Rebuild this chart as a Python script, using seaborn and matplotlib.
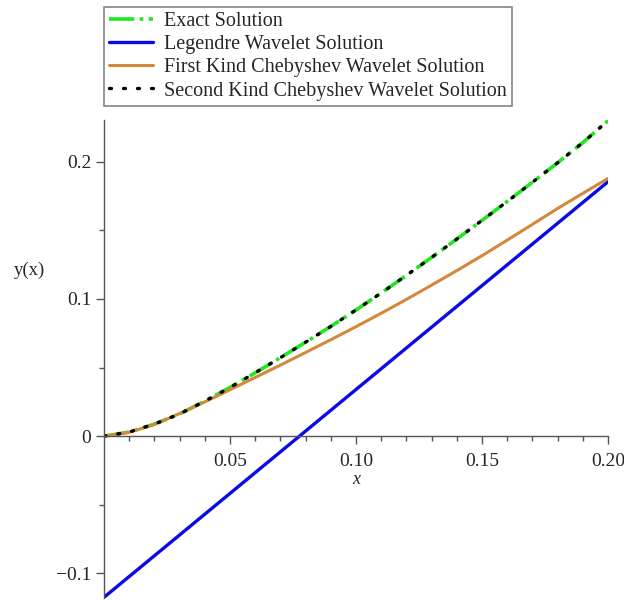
import numpy as np
import pandas as pd
import matplotlib.pyplot as plt
import seaborn as sns

# values
x_vals = [0.00, 0.01, 0.02, 0.03, 0.04, 0.05, 0.06, 0.07, 0.08, 0.09, 0.10,
          0.11, 0.12, 0.13, 0.14, 0.15, 0.16, 0.17, 0.18, 0.19, 0.20]
exact = [0.0, 0.0030, 0.0088, 0.0162, 0.0255, 0.0355, 0.0462, 0.0572, 0.0685, 0.0800, 0.0920,
         0.1044, 0.1172, 0.1303, 0.1437, 0.1573, 0.1711, 0.1851, 0.1993, 0.2140, 0.2300]
first_kind = [0.0, 0.0028, 0.0085, 0.0165, 0.0250, 0.0338, 0.0428, 0.0518, 0.0610, 0.0703, 0.0798,
              0.0896, 0.0997, 0.1101, 0.1207, 0.1316, 0.1429, 0.1544, 0.1660, 0.1770, 0.1879]
second_kind = [0.0, 0.0030, 0.0088, 0.0162, 0.0255, 0.0355, 0.0462, 0.0572, 0.0685, 0.0800, 0.0920,
               0.1044, 0.1172, 0.1303, 0.1437, 0.1573, 0.1711, 0.1851, 0.1993, 0.2140, 0.2300]
legendre_x = [0.0, 0.2]
legendre = [-0.1175, 0.1855]

labels = ['Exact Solution', 'Legendre Wavelet Solution',
          'First Kind Chebyshev Wavelet Solution', 'Second Kind Chebyshev Wavelet Solution']

sns.set_style("white")
plt.rcParams['font.family'] = ['Liberation Serif', 'DejaVu Serif']

fig = plt.figure(figsize=(6.24, 6), dpi=100)
ax = fig.add_axes([104/624, 2/600, (608-104)/624, (480-2)/600])

df = pd.DataFrame({'x': x_vals, 'exact': exact, 'first': first_kind, 'second': second_kind})
df_leg = pd.DataFrame({'x': legendre_x, 'y': legendre})

sns.lineplot(data=df, x='x', y='exact', ax=ax, color='#1ee81e', lw=2.6,
             dashes=False, label=labels[0])
ax.lines[-1].set_dashes((7, 1.5, 1, 1.5))
sns.lineplot(data=df_leg, x='x', y='y', ax=ax, color='#0a0ae6', lw=2.4, label=labels[1])
sns.lineplot(data=df, x='x', y='first', ax=ax, color='#d4883c', lw=2.2, label=labels[2])
sns.lineplot(data=df, x='x', y='second', ax=ax, color='black', lw=2.4, label=labels[3])
ax.lines[-1].set_dashes((0.6, 3.6))
ax.lines[-1].set_dash_capstyle('round')

ax.set_xlim(0, 0.2)
ax.set_ylim(-0.118, 0.2305)
ax.spines['left'].set_position(('data', 0))
ax.spines['bottom'].set_position(('data', 0))
ax.spines['top'].set_visible(False)
ax.spines['right'].set_visible(False)
for s in ['left', 'bottom']:
    ax.spines[s].set_color('#555555')
    ax.spines[s].set_linewidth(1.0)

ax.set_xticks([0.05, 0.10, 0.15, 0.20])
ax.set_xticklabels(['0.05', '0.10', '0.15', '0.20'])
ax.set_xticks(np.arange(0.01, 0.2, 0.01), minor=True)
ax.set_yticks([-0.1, 0, 0.1, 0.2])
ax.set_yticklabels(['\u22120.1', '0', '0.1', '0.2'])
ax.set_yticks([-0.05, 0.05, 0.15], minor=True)
ax.tick_params(which='major', direction='out', length=6, width=1, color='#555555',
               labelsize=14, left=True, bottom=True)
ax.tick_params(which='minor', direction='out', length=3.5, width=1, color='#555555',
               left=True, bottom=True)
ax.tick_params(axis='x', pad=6)
ax.tick_params(axis='y', pad=3)

ax.set_xlabel('')
ax.set_ylabel('')
ax.text(0.1, -0.0255, 'x', style='italic', fontsize=13, ha='center', va='top')
fig.text(14/624, 1 - 270/600, 'y(x)', fontsize=13.5, ha='left', va='center')

handles, labs = ax.get_legend_handles_labels()
ax.get_legend().remove()
leg = fig.legend(handles, labs, loc='upper left', bbox_to_anchor=(104/624, 1 - 7/600),
                 frameon=True, fancybox=False, fontsize=14.5, handlelength=2.2,
                 handletextpad=0.55, borderpad=0.25, labelspacing=0.2, borderaxespad=0)
leg.get_frame().set_edgecolor('#666666')
leg.get_frame().set_linewidth(1.2)

fig.savefig('out.png', dpi=100)
